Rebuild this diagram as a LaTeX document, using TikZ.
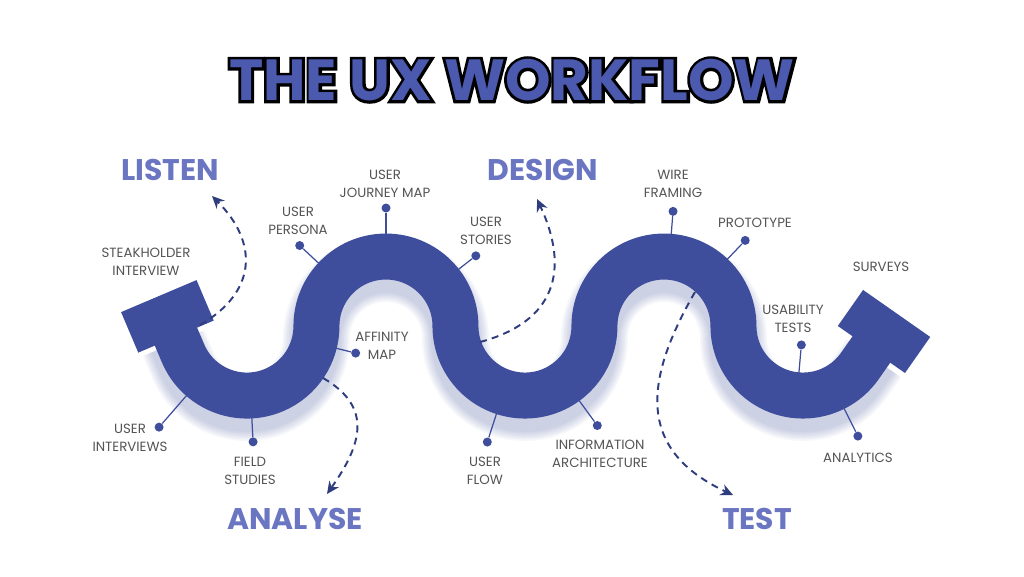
\documentclass[tikz,border=0pt]{standalone}
\usepackage{fontspec}
\setmainfont{Poppins}
\newfontfamily\titleoutline{Poppins}[BoldFeatures={FakeBold=10}]
\usetikzlibrary{arrows.meta,positioning,calc}

\definecolor{uxband}{HTML}{3F4E9C}
\definecolor{uxphase}{HTML}{6B76C3}
\definecolor{uxtitle}{HTML}{4B5AAE}
\definecolor{uxtext}{HTML}{555555}
\definecolor{uxarrow}{HTML}{2F3C7E}

% centre line of the wave (starts at a plain coordinate so shifts work)
\newcommand{\uxwave}{(173.6,-331.1) -- ++(-67:24)
  arc[start angle=203, end angle=360, radius=69.5]
  arc[start angle=180, end angle=0, radius=69.5]
  arc[start angle=180, end angle=360, radius=69.5]
  arc[start angle=180, end angle=0, radius=69.5]
  arc[start angle=180, end angle=325, radius=69.5] -- ++(55:24)}

\begin{document}
\begin{tikzpicture}[
  x=0.02cm, y=0.02cm,
  band/.style={draw=uxband, line width=0.92cm},
  glow/.style={draw=uxband, opacity=0.04},
  endplate/.style={rectangle, fill=uxband, minimum width=1.64cm,
              minimum height=0.88cm, inner sep=0pt},
  dot/.style={circle, fill=uxband, inner sep=0pt, minimum size=0.18cm},
  pin/.style={draw=uxband, line width=0.7pt},
  lbl/.style={font=\fontsize{7.6}{10}\selectfont, text=uxtext,
              align=center, inner sep=0pt},
  phase/.style={font=\fontsize{17}{20}\selectfont\bfseries, text=uxphase,
                inner sep=0pt},
  headline/.style={inner sep=0pt, font=\fontsize{33}{36}\selectfont\bfseries},
  flow/.style={draw=uxarrow, line width=1.1pt, dash pattern=on 4pt off 3pt,
               -{Stealth[length=7pt, width=6.5pt]}}
]
\useasboundingbox[fill=white] (0,0) rectangle (1024,-576);

% --- Title ---
\node[headline, text=black, font=\titleoutline\fontsize{33}{36}\selectfont\bfseries]
  (titleback) at (512,-80) {THE UX WORKFLOW};
\node[headline, text=uxtitle] (title) at (titleback) {THE UX WORKFLOW};

% --- Wave ---
\coordinate (c1) at (247,-326);
\coordinate (c2) at (386,-326);
\coordinate (c3) at (525,-326);
\coordinate (c4) at (664,-326);
\coordinate (c5) at (803,-326);

\foreach \w in {0.98,1.04,...,1.36}
  \draw[glow, line width=\w cm, yshift=-0.24cm] \uxwave;
\draw[band] \uxwave;

\node[endplate, rotate=23]  (plateL) at ($(c1)+(203:69.5)+(113:40)$) {};
\node[endplate, rotate=-35] (plateR) at ($(c5)+(325:69.5)+(55:42)$) {};

% --- Pins ---
\node[dot] (dPersona) at ($(c2)+(137:118)$) {};
\node[dot] (dJourney) at ($(c2)+(90:118)$) {};
\node[dot] (dStories) at ($(c2)+(38:114)$) {};
\node[dot] (dAffinity) at ($(c1)+(-14:112)$) {};
\node[dot] (dField) at ($(c1)+(-87:116)$) {};
\node[dot] (dInterv) at ($(c1)+(229:134)$) {};
\node[dot] (dFlow) at ($(c3)+(252:122)$) {};
\node[dot] (dInfo) at ($(c3)+(-54:123)$) {};
\node[dot] (dWire) at ($(c4)+(85.5:115)$) {};
\node[dot] (dProto) at ($(c4)+(46.5:118)$) {};
\node[dot] (dUsab) at ($(c5)+(265:19)$) {};
\node[dot] (dAnalyt) at ($(c5)+(-63.5:123)$) {};

\draw[pin] (dPersona) -- ($(c2)+(137:92)$);
\draw[pin] (dJourney) -- ($(c2)+(90:92)$);
\draw[pin] (dStories) -- ($(c2)+(38:92)$);
\draw[pin] (dAffinity) -- ($(c1)+(-14:92)$);
\draw[pin] (dField) -- ($(c1)+(-87:92)$);
\draw[pin] (dInterv) -- ($(c1)+(229:92)$);
\draw[pin] (dFlow) -- ($(c3)+(252:92)$);
\draw[pin] (dInfo) -- ($(c3)+(-54:92)$);
\draw[pin] (dWire) -- ($(c4)+(85.5:92)$);
\draw[pin] (dProto) -- ($(c4)+(46.5:92)$);
\draw[pin] (dUsab) -- ($(c5)+(265:47)$);
\draw[pin] (dAnalyt) -- ($(c5)+(-63.5:92)$);

% --- Labels ---
\node[lbl] (tSteak) at (146,-262) {STEAKHOLDER\\INTERVIEW};
\node[lbl] (tPersona) at (298,-221) {USER\\PERSONA};
\node[lbl] (tJourney) at (385,-184) {USER\\JOURNEY MAP};
\node[lbl] (tStories) at (486,-231) {USER\\STORIES};
\node[lbl] (tAffinity) at (382,-346) {AFFINITY\\MAP};
\node[lbl] (tField) at (250,-471) {FIELD\\STUDIES};
\node[lbl] (tInterv) at (130,-438) {USER\\INTERVIEWS};
\node[lbl] (tFlow) at (485,-471) {USER\\FLOW};
\node[lbl] (tInfo) at (600,-454) {INFORMATION\\ARCHITECTURE};
\node[lbl] (tWire) at (673,-184) {WIRE\\FRAMING};
\node[lbl] (tProto) at (755,-223) {PROTOTYPE};
\node[lbl] (tSurveys) at (881,-267) {SURVEYS};
\node[lbl] (tUsab) at (793,-319) {USABILITY\\TESTS};
\node[lbl] (tAnalyt) at (858,-458) {ANALYTICS};

% --- Phases ---
\node[phase] (listen) at (170,-170) {LISTEN};
\node[phase] (design) at (543,-170) {DESIGN};
\node[phase] (analyse) at (295,-519) {ANALYSE};
\node[phase] (test) at (757,-519) {TEST};

% --- Dashed arrows ---
\coordinate (lsA) at (200,-325);
\coordinate (lsB) at (212,-196);
\coordinate (anA) at (323,-378);
\coordinate (anB) at (327,-494);
\coordinate (deA) at (480,-342);
\coordinate (deB) at (537,-199);
\coordinate (teA) at (695,-292);
\coordinate (teB) at (733,-495);
\draw[flow] (lsA) to[out=30, in=-45, looseness=1.3] (lsB);
\draw[flow] (anA) to[out=-30, in=55, looseness=1.3] (anB);
\draw[flow] (deA) to[out=15, in=-65, looseness=1.3] (deB);
\draw[flow] (teA) to[out=-120, in=155, looseness=1.3] (teB);

\end{tikzpicture}
\end{document}
